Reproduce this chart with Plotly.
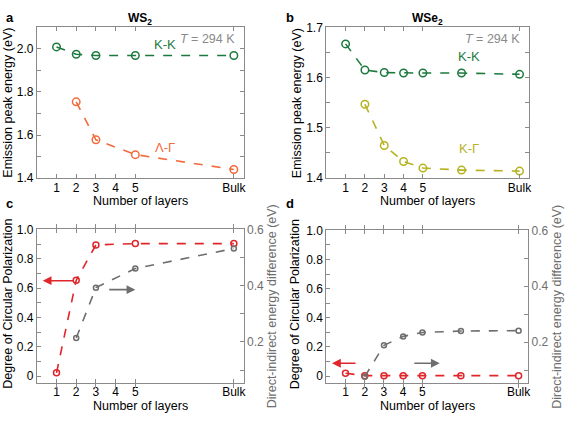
import plotly.graph_objects as go

# ---- data ----
layer_pos = [1, 2, 3, 4, 5, 10]
layer_labels = ["1", "2", "3", "4", "5", "Bulk"]

# panel a (WS2)
ws2_kk_x = [1, 2, 3, 5, 10]
ws2_kk_y = [2.009, 1.975, 1.969, 1.969, 1.969]
ws2_lg_x = [2, 3, 5, 10]
ws2_lg_y = [1.754, 1.578, 1.509, 1.440]

# panel b (WSe2)
wse2_kk_x = [1, 2, 3, 4, 5, 7, 10]
wse2_kk_y = [1.667, 1.615, 1.610, 1.609, 1.609, 1.609, 1.6065]
wse2_kg_x = [2, 3, 4, 5, 7, 10]
wse2_kg_y = [1.547, 1.465, 1.433, 1.420, 1.416, 1.414]

# panel c (WS2)
ws2_dcp_x = [1, 2, 3, 5, 10]
ws2_dcp_y = [0.022, 0.653, 0.894, 0.903, 0.903]
ws2_diff_x = [2, 3, 5, 10]
ws2_diff_y = [0.214, 0.393, 0.461, 0.532]

# panel d (WSe2)
wse2_dcp_x = [1, 2, 3, 4, 5, 7, 10]
wse2_dcp_y = [0.02, 0.003, 0.003, 0.003, 0.003, 0.003, 0.003]
wse2_diff_x = [2, 3, 4, 5, 7, 10]
wse2_diff_y = [0.077, 0.189, 0.221, 0.235, 0.240, 0.2415]

GREEN = "#1d7a3e"
ORANGE = "#f26b3d"
OLIVE = "#b5b31e"
RED = "#e0262b"
GRAY = "#6e6e6e"
AX = "#8a8a8a"
FONT = "Liberation Sans"

W, H = 569, 422

def dom_x(a, b):
    return [a / W, b / W]

def dom_y(top, bot):
    return [1 - bot / H, 1 - top / H]

fig = go.Figure()

def line(x, y, color, xa, ya, msize):
    fig.add_trace(go.Scatter(
        x=x, y=y, mode="lines+markers", xaxis=xa, yaxis=ya,
        line=dict(color=color, width=1.6, dash="dash"),
        marker=dict(symbol="circle-open", size=msize, color=color, line=dict(width=1.5, color=color)),
        showlegend=False, hoverinfo="skip"))

line(ws2_kk_x, ws2_kk_y, GREEN, "x", "y", 7.5)
line(ws2_lg_x, ws2_lg_y, ORANGE, "x", "y", 7.5)
line(wse2_kk_x, wse2_kk_y, GREEN, "x2", "y2", 7.5)
line(wse2_kg_x, wse2_kg_y, OLIVE, "x2", "y2", 7.5)
line(ws2_dcp_x, ws2_dcp_y, RED, "x3", "y3", 6)
line(ws2_diff_x, ws2_diff_y, GRAY, "x3", "y5", 5)
line(wse2_dcp_x, wse2_dcp_y, RED, "x4", "y4", 6)
line(wse2_diff_x, wse2_diff_y, GRAY, "x4", "y6", 5)

tickfont = dict(family=FONT, size=12, color="black")

def xaxis(dom, anchor):
    return dict(domain=dom, anchor=anchor, range=[0, 10.5], tickmode="array",
                tickvals=layer_pos, ticktext=layer_labels, ticks="inside", ticklen=4,
                tickcolor=AX, showline=True, linecolor=AX, linewidth=1, mirror="allticks",
                showgrid=False, zeroline=False, tickfont=tickfont, ticklabelstandoff=-2)

def yaxis(dom, anchor, rng, dtick, mirror, minor):
    return dict(domain=dom, anchor=anchor, range=rng, dtick=dtick, ticks="inside", ticklen=4,
                tickcolor=AX, showline=True, linecolor=AX, linewidth=1, mirror=mirror,
                showgrid=False, zeroline=False, tickfont=tickfont,
                minor=dict(dtick=minor, ticks="inside", ticklen=4, tickcolor=AX))

top_y = dom_y(21, 177)
fig.update_layout(
    xaxis=xaxis(dom_x(37, 245), "y"),
    yaxis=yaxis(top_y, "x", [1.4, 2.1], 0.2, "allticks", 0.1),
    xaxis2=xaxis(dom_x(328, 532), "y2"),
    yaxis2=yaxis(top_y, "x2", [1.4, 1.7], 0.1, "allticks", 0.05),
    xaxis3=xaxis(dom_x(37, 245), "y3"),
    yaxis3=yaxis(dom_y(230, 389), "x3", [-0.048, 1.0], 0.2, False, 0.1),
    xaxis4=xaxis(dom_x(328, 531), "y4"),
    yaxis4=yaxis(dom_y(231, 389), "x4", [-0.048, 1.0], 0.2, False, 0.1),
)
for ax in (fig.layout.yaxis3, fig.layout.yaxis4):
    ax.tickvals = [0, 0.2, 0.4, 0.6, 0.8, 1.0]
    ax.ticktext = ["0", "0.2", "0.4", "0.6", "0.8", "1.0"]
fig.layout.yaxis.tickformat = ".1f"
fig.layout.yaxis2.tickformat = ".1f"

def raxis(over, anchor):
    return dict(overlaying=over, anchor=anchor, side="right", range=[0.054, 0.6],
                tickvals=[0.2, 0.4, 0.6], ticks="inside", ticklen=4, tickcolor=AX,
                showline=True, linecolor=AX, linewidth=1, showgrid=False, zeroline=False,
                tickfont=dict(family=FONT, size=12, color=GRAY),
                minor=dict(tickvals=[0.1, 0.3, 0.5], ticks="inside", ticklen=4, tickcolor=AX))

fig.update_layout(yaxis5=raxis("y3", "x3"), yaxis6=raxis("y4", "x4"))

ann = []

def px(xp, yp):
    return xp / W, 1 - yp / H

def ptxt(text, xp, yp, color="black", size=13, bold=False, angle=0):
    x, y = px(xp, yp)
    ann.append(dict(text=("<b>%s</b>" % text) if bold else text, x=x, y=y, xref="paper", yref="paper",
                    showarrow=False, xanchor="center", yanchor="middle", textangle=angle,
                    font=dict(family=FONT, size=size, color=color)))

def dtxt(text, x, y, color, size, xr, yr, xanchor="center"):
    ann.append(dict(text=text, x=x, y=y, xref=xr, yref=yr, showarrow=False,
                    xanchor=xanchor, yanchor="middle",
                    font=dict(family=FONT, size=size, color=color)))

for letter, (xp, yp) in [("a", (10, 11)), ("b", (292, 11)), ("c", (10, 203)), ("d", (292, 203))]:
    ptxt(letter, xp, yp, "black", 13, True)
ptxt("WS<sub>2</sub>", 141, 12, "black", 12, True)
ptxt("WSe<sub>2</sub>", 430, 12, "black", 12, True)

# axis titles
ptxt("Number of layers", 141, 201, size=12.5)
ptxt("Number of layers", 430, 201, size=12.5)
ptxt("Number of layers", 141, 413, size=12.5)
ptxt("Number of layers", 430, 413, size=12.5)
ptxt("Emission peak energy (eV)", 8, 99, size=12.5, angle=-90)
ptxt("Emission peak energy (eV)", 298, 99, size=12.5, angle=-90)
ptxt("Degree of Circular Polarization", 8, 307, size=12.5, angle=-90)
ptxt("Degree of Circular Polarization", 296, 307, size=12.5, angle=-90)
ptxt("Direct-indirect energy difference (eV)", 273, 310, GRAY, 12.5, angle=-90)
ptxt("Direct-indirect energy difference (eV)", 560, 310, GRAY, 12.5, angle=-90)

dtxt("K-K", 6.5, 2.02, GREEN, 13, "x", "y")
dtxt("<i>T</i> = 294 K", 10.15, 2.046, "#8a8a8a", 12.5, "x", "y", "right")
dtxt("Λ-Γ", 6.5, 1.54, ORANGE, 13, "x", "y")
dtxt("<i>T</i> = 294 K", 10.15, 1.6775, "#8a8a8a", 12.5, "x2", "y2", "right")
dtxt("K-K", 7.4, 1.641, GREEN, 13, "x2", "y2")
dtxt("K-Γ", 7.4, 1.458, OLIVE, 13, "x2", "y2")

def arrow(x0, x1, y, color, xr, yr):
    ann.append(dict(x=x1, y=y, ax=x0, ay=y, xref=xr, yref=yr, axref=xr, ayref=yr,
                    showarrow=True, arrowhead=2, arrowsize=1.1, arrowwidth=1.6,
                    arrowcolor=color, text=""))

arrow(1.95, 0.3, 0.65, RED, "x3", "y3")
arrow(3.6, 5.0, 0.589, GRAY, "x3", "y3")
arrow(1.6, 0.3, 0.088, RED, "x4", "y4")
arrow(4.5, 5.9, 0.088, GRAY, "x4", "y4")

fig.update_layout(annotations=ann, width=W, height=H, margin=dict(l=0, r=0, t=0, b=0),
                  plot_bgcolor="white", paper_bgcolor="white")

PAGE_CSS = ("var s=document.createElement('style');"
            "s.innerHTML='html,body{margin:0;padding:0;overflow:hidden;width:569px;height:422px;}';"
            "document.head.appendChild(s);")

fig.write_html("out.html", config={"displayModeBar": False}, post_script=PAGE_CSS)
